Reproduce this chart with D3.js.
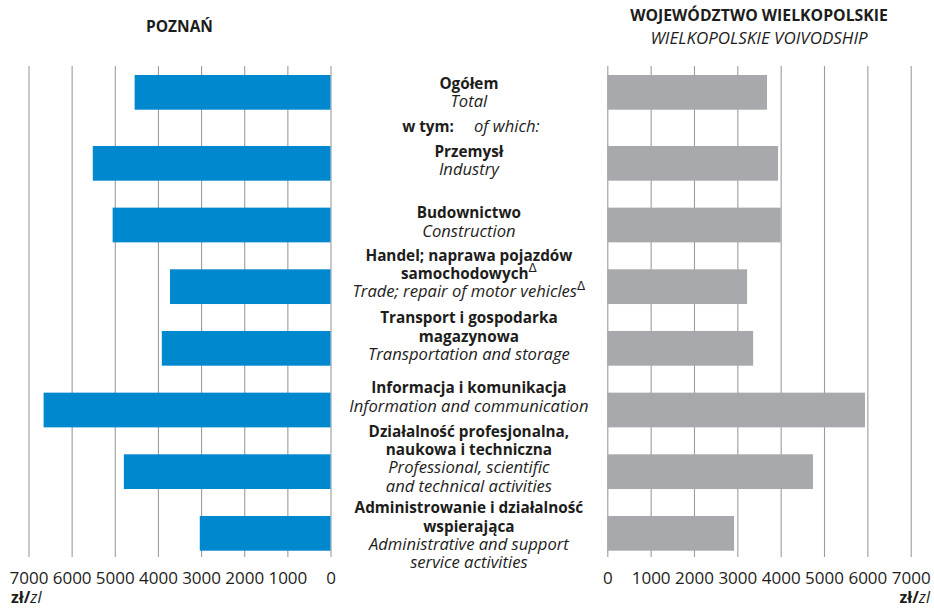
<!DOCTYPE html>
<html>
<head>
<meta charset="utf-8">
<script src="https://cdn.jsdelivr.net/npm/d3@7"></script>
<style>
  html, body { margin: 0; padding: 0; background: #fff; }
  svg { display: block; font-family: "Open Sans", "Noto Sans", sans-serif; }
</style>
</head>
<body>
<svg id="chart" width="934" height="610"></svg>
<script>
// ---------- DATA ----------
const categories = ["total", "industry", "construction", "trade", "transport", "info", "professional", "admin"];
const labelsPL = [
  ["Ogółem"],
  ["Przemysł"],
  ["Budownictwo"],
  ["Handel; naprawa pojazdów", "samochodowych\u0394"],
  ["Transport i gospodarka", "magazynowa"],
  ["Informacja i komunikacja"],
  ["Działalność profesjonalna,", "naukowa i techniczna"],
  ["Administrowanie i działalność", "wspierająca"]
];
const labelsEN = [
  ["Total"],
  ["Industry"],
  ["Construction"],
  ["Trade; repair of motor vehicles\u0394"],
  ["Transportation and storage"],
  ["Information and communication"],
  ["Professional, scientific", "and technical activities"],
  ["Administrative and support", "service activities"]
];
const poznanValues = [4540, 5510, 5050, 3720, 3910, 6650, 4790, 3030];
const wielkopolskaValues = [3685, 3940, 4000, 3225, 3365, 5945, 4745, 2925];
const tickValues = [0, 1000, 2000, 3000, 4000, 5000, 6000, 7000];
const titleLeft = "POZNAŃ";
const titleRightPL = "WOJEWÓDZTWO WIELKOPOLSKIE";
const titleRightEN = "WIELKOPOLSKIE VOIVODSHIP";
const unitPL = "zł/";
const unitEN = "zl";
const ofWhichPL = "w tym:";
const ofWhichEN = "of which:";

// ---------- LAYOUT ----------
const svg = d3.select("#chart");
const blue = "#0088ce", grey = "#a7a9ac", gridColor = "#9c9c9c", textColor = "#1d1d1b";
const gridTop = 66, gridBottom = 557;
const boldSize = "15.3px", italSize = "16.6px";
const xL = d3.scaleLinear().domain([0, 7000]).range([330.5, 28.5]);
const xR = d3.scaleLinear().domain([0, 7000]).range([607.3, 910.7]);
const y = d3.scaleBand().domain(categories).range([84.3, 550.7]).paddingInner(0.437).paddingOuter(0);
const totalShift = y.step() * 0.151; // extra room for the "w tym" line
const yTop = (c, i) => y(c) - (i === 0 ? totalShift : 0);
const centerX = (xL(0) + xR(0)) / 2;

// ---------- AXES / GRID ----------
function drawAxis(scale) {
  const g = svg.append("g")
    .attr("transform", `translate(0,${gridBottom})`)
    .call(d3.axisBottom(scale).tickValues(tickValues)
      .tickSizeInner(-(gridBottom - gridTop)).tickSizeOuter(0).tickPadding(14.7)
      .tickFormat(d3.format("d")));
  g.select(".domain").remove();
  g.selectAll(".tick line").attr("stroke", gridColor).attr("stroke-width", 1.1);
  g.selectAll(".tick text").attr("fill", textColor)
    .style("font-family", '"Open Sans", sans-serif').style("font-size", "17px");
}
drawAxis(xL);
drawAxis(xR);

// ---------- BARS ----------
const rows = categories.map((c, i) => ({ c, i, p: poznanValues[i], w: wielkopolskaValues[i] }));
svg.append("g").selectAll("rect").data(rows).join("rect")
  .attr("x", d => xL(d.p)).attr("y", d => yTop(d.c, d.i))
  .attr("width", d => xL(0) - xL(d.p)).attr("height", y.bandwidth())
  .attr("fill", blue);
svg.append("g").selectAll("rect").data(rows).join("rect")
  .attr("x", xR(0)).attr("y", d => yTop(d.c, d.i))
  .attr("width", d => xR(d.w) - xR(0)).attr("height", y.bandwidth())
  .attr("fill", grey);

// ---------- CENTER LABELS ----------
const lineH = 18.3, capHalf = 5.4;
const labelNudge = [0, -3, -3, -13, -12, -13, -13, 2];
const labels = svg.append("g").attr("fill", textColor).attr("text-anchor", "middle");
rows.forEach(d => {
  const lines = labelsPL[d.i].map(t => ({ t, bold: true })).concat(labelsEN[d.i].map(t => ({ t, bold: false })));
  const mid = yTop(d.c, d.i) + y.bandwidth() / 2;
  const first = mid - (lines.length - 1) * lineH / 2 + capHalf + labelNudge[d.i];
  lines.forEach((ln, k) => {
    const txt = labels.append("text").attr("x", centerX).attr("y", first + k * lineH)
      .style("font-size", ln.bold ? boldSize : italSize)
      .style("font-weight", ln.bold ? 700 : 400)
      .style("font-style", ln.bold ? "normal" : "italic");
    const hasDelta = ln.t.endsWith("\u0394");
    txt.append("tspan").text(hasDelta ? ln.t.slice(0, -1) : ln.t);
    if (hasDelta) {
      txt.append("tspan").text("\u0394").attr("dy", -7)
        .style("font-size", "12px").style("font-weight", 400).style("font-style", "normal")
        .style("font-family", '"DejaVu Sans", sans-serif');
    }
  });
});
// "w tym: of which:"
const ofWhichY = (yTop(categories[0], 0) + y.bandwidth() + y(categories[1])) / 2 + 4;
const ow = labels.append("text").attr("x", centerX + 2).attr("y", ofWhichY);
ow.append("tspan").text(ofWhichPL).style("font-size", boldSize).style("font-weight", 700);
ow.append("tspan").text(ofWhichEN).attr("dx", 20).style("font-size", italSize).style("font-style", "italic");

// ---------- TITLES ----------
const lMid = (xL.range()[0] + xL.range()[1]) / 2;
const rMid = (xR.range()[0] + xR.range()[1]) / 2;
svg.append("text").attr("x", lMid).attr("y", 32).attr("text-anchor", "middle").attr("fill", textColor)
  .style("font-size", "15.5px").style("font-weight", 700).text(titleLeft);
svg.append("text").attr("x", rMid).attr("y", 21).attr("text-anchor", "middle").attr("fill", textColor)
  .style("font-size", "15.8px").style("font-weight", 700).text(titleRightPL);
svg.append("text").attr("x", rMid).attr("y", 44).attr("text-anchor", "middle").attr("fill", textColor)
  .style("font-size", "17px").style("font-style", "italic").text(titleRightEN);

// ---------- UNITS ----------
function unit(x, anchor) {
  const t = svg.append("text").attr("x", x).attr("y", 603).attr("text-anchor", anchor).attr("fill", textColor)
    .style("font-size", "16px");
  t.append("tspan").text(unitPL).style("font-weight", 700);
  t.append("tspan").text(unitEN).style("font-style", "italic");
}
unit(11, "start");
unit(930, "end");
</script>
</body>
</html>
